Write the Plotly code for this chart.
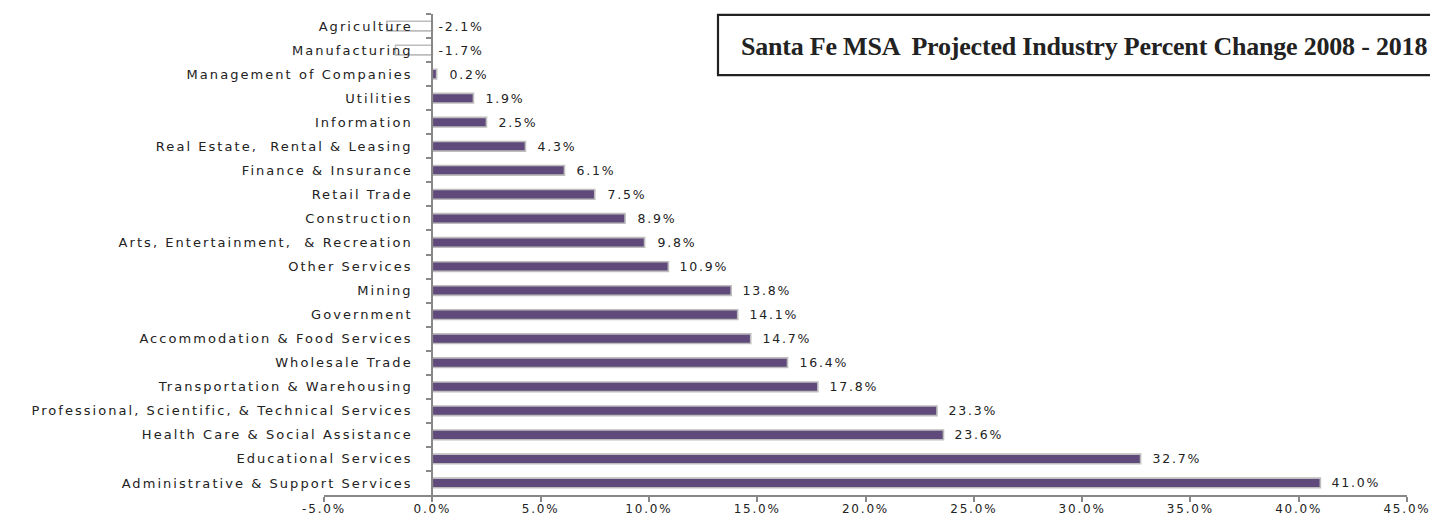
import plotly.graph_objects as go

# ---- data (top to bottom as shown) ----
industries = [
    "Agriculture",
    "Manufacturing",
    "Management of Companies",
    "Utilities",
    "Information",
    "Real Estate,  Rental & Leasing",
    "Finance & Insurance",
    "Retail Trade",
    "Construction",
    "Arts, Entertainment,  & Recreation",
    "Other Services",
    "Mining",
    "Government",
    "Accommodation & Food Services",
    "Wholesale Trade",
    "Transportation & Warehousing",
    "Professional, Scientific, & Technical Services",
    "Health Care & Social Assistance",
    "Educational Services",
    "Administrative & Support Services",
]
pct_change = [-2.1, -1.7, 0.2, 1.9, 2.5, 4.3, 6.1, 7.5, 8.9, 9.8,
              10.9, 13.8, 14.1, 14.7, 16.4, 17.8, 23.3, 23.6, 32.7, 41.0]
x_ticks = [-5, 0, 5, 10, 15, 20, 25, 30, 35, 40, 45]
x_tick_labels = [f"{t:.1f}%" for t in x_ticks]
title_text = "Santa Fe MSA  Projected Industry Percent Change 2008 - 2018"

FONT = "DejaVu Sans"
PURPLE = "#604A7B"
AXIS = "#888888"
TXT = "#222222"

bar_colors = [PURPLE if v >= 0 else "white" for v in pct_change]

fig = go.Figure()
fig.add_trace(go.Bar(
    x=pct_change,
    y=industries,
    orientation="h",
    width=0.4,
    marker=dict(color=bar_colors, line=dict(color="#BDBDBD", width=1.6)),
    hoverinfo="x+y",
))

annotations = []
for name, v in zip(industries, pct_change):
    annotations.append(dict(
        x=max(v, 0), y=name, xref="x", yref="y",
        text=f"{v:.1f}%", showarrow=False,
        xanchor="left", yanchor="middle",
        xshift=14 if v > 0 else 9,
        font=dict(family=FONT, size=12.5, color=TXT),
    ))

# title inside a box
annotations.append(dict(
    x=0.7022, y=0.933, xref="paper", yref="paper",
    text="<b>" + title_text + "</b>", showarrow=False,
    xanchor="center", yanchor="middle",
    font=dict(family="Liberation Serif", size=26, color=TXT),
))

# page body has an 8px default margin; margins below compensate for it
fig.update_layout(
    width=1438, height=518,
    margin=dict(l=316, r=39, t=6, b=31, autoexpand=False),
    paper_bgcolor="white", plot_bgcolor="white",
    showlegend=False,
    annotations=annotations,
    shapes=[dict(
        type="rect", xref="paper", yref="paper",
        x0=0.3638, x1=1.05, y0=0.873, y1=0.998,
        line=dict(color=TXT, width=2.2), fillcolor="rgba(0,0,0,0)",
        layer="above",
    )],
    xaxis=dict(
        range=[-5, 45],
        automargin=False,
        tickmode="array", tickvals=x_ticks, ticktext=x_tick_labels,
        showgrid=False, zeroline=False,
        showline=True, linecolor=AXIS, linewidth=1.5,
        ticks="outside", ticklen=5, tickcolor=AXIS, tickwidth=1.5,
        ticklabelstandoff=-3,
        tickfont=dict(family=FONT, size=12, color=TXT),
        fixedrange=True,
    ),
    yaxis=dict(
        type="category",
        autorange="reversed",
        automargin=False,
        anchor="free", position=0.1,
        showgrid=False, zeroline=False,
        showline=True, linecolor=AXIS, linewidth=2,
        ticks="outside", ticklen=5, tickcolor=AXIS, tickwidth=1.5,
        tickson="boundaries",
        ticklabelstandoff=16,
        tickfont=dict(family=FONT, size=13, color=TXT),
        fixedrange=True,
    ),
)

# widen letter spacing of the small labels to match the reference typography
post_js = """
var gd = document.getElementById('{plot_id}');
function spaceOut(){
  gd.querySelectorAll('.xtick text').forEach(function(t){ t.style.letterSpacing='1.8px'; });
  gd.querySelectorAll('.ytick text').forEach(function(t){ t.style.letterSpacing='2.05px'; });
  gd.querySelectorAll('.annotation-text').forEach(function(t){
    if (t.textContent.indexOf('Santa') < 0) { t.style.letterSpacing='1.8px'; }
    else { t.style.letterSpacing='-0.2px'; }
  });
}
spaceOut();
gd.on('plotly_afterplot', spaceOut);
"""

fig.write_html("out.html", post_script=post_js)
